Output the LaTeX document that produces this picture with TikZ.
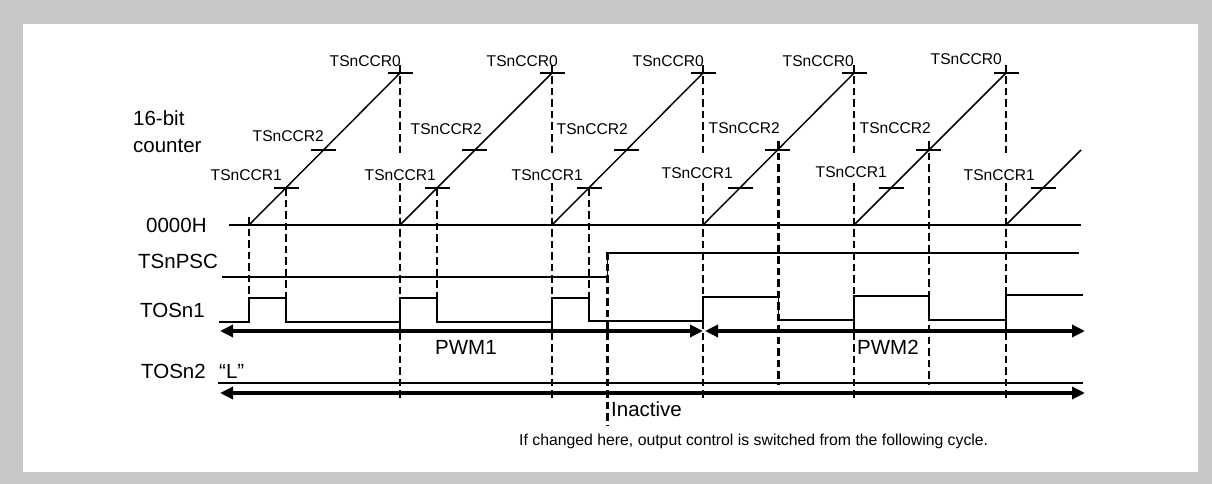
\documentclass[tikz,border=0pt]{standalone}
\usepackage{fontspec}
\setmainfont{Liberation Sans}
\usetikzlibrary{arrows.meta}
\definecolor{framegray}{RGB}{200,200,200}
\begin{document}
\begin{tikzpicture}[x=1pt,y=-1pt,
  thinln/.style={line width=1.45pt, line join=miter},
  dashln/.style={line width=2.9pt, dash pattern=on 7.5pt off 4pt},
  bigarrow/.style={line width=3.5pt, {Triangle[length=13pt,width=12pt]}-{Triangle[length=13pt,width=12pt]}},
  biglbl/.style={font=\fontsize{20.5}{24}\selectfont, inner sep=0pt},
  smlbl/.style={font=\fontsize{15.6}{18}\selectfont, inner sep=0pt},
  notelbl/.style={font=\fontsize{15.8}{18}\selectfont, inner sep=0pt}]
\useasboundingbox (0,0) rectangle (1212,484);
\fill[framegray] (0,0) rectangle (1212,484);
\fill[white] (23,24) rectangle (1198,472);

% counter zero line
\draw[thinln] (229,225) -- (1081,225);
% ramps with compare ticks
\foreach \s/\p in {249/400,400/552,552/703,703/854,854/1006}{
  \draw[thinln] (\s,225) -- (\p,73);
  \draw[thinln] (\p-12.5,73) -- (\p+12.5,73);
  \draw[thinln] (\s+62,150) -- (\s+87,150);
  \draw[thinln] (\s+24.5,188) -- (\s+49.5,188);
}
\draw[thinln] (1006,225) -- (1081,150);
\draw[thinln] (1030.5,188) -- (1055.5,188);

% TSnPSC
\draw[thinln] (222,277) -- (607.5,277) -- (607.5,253) -- (1079,253);
% TOSn1
\draw[thinln] (219,322) -- (249,322) -- (249,298) -- (286,298) -- (286,322)
  -- (400,322) -- (400,298) -- (437,298) -- (437,322) -- (552,322) -- (552,298)
  -- (589,298) -- (589,321) -- (703,321) -- (703,297) -- (778.5,297) -- (778.5,320)
  -- (854,320) -- (854,296) -- (929,296) -- (929,320) -- (1006,320) -- (1006,295) -- (1083,295);
% TOSn2
\draw[thinln] (218,383) -- (1083,383);

% dashed markers
\foreach \x in {400,552,703,854,1006}{
  \draw[dashln] (\x,65) -- (\x,155);
  \draw[dashln] (\x,183) -- (\x,401);
}
\draw[dashln] (249,217) -- (249,322);
\foreach \x in {286,437,589} \draw[dashln] (\x,188) -- (\x,322);
\foreach \x in {778.5,929} \draw[dashln] (\x,141) -- (\x,385);
\draw[dashln] (607.5,252) -- (607.5,425);

% arrows
\draw[bigarrow] (220,331) -- (703,331);
\draw[bigarrow] (705,331) -- (1085,331);
\draw[bigarrow] (220,393) -- (1085,393);

% left labels
\node[biglbl, anchor=base west] (l16) at (133,126) {16-bit};
\node[biglbl, anchor=base west] (lcnt) at (133,153) {counter};
\node[biglbl, anchor=base west] (lzero) at (146,232) {0000H};
\node[biglbl, anchor=base west] (lpsc) at (138,268) {TSnPSC};
\node[biglbl, anchor=base west] (ltos1) at (140,317) {TOSn1};
\node[biglbl, anchor=base west] (ltos2) at (141,378) {TOSn2};
\node[biglbl, anchor=base west] (lL) at (219,378) {“L”};

% compare labels
\node[smlbl, anchor=base east] (a0) at (401,67) {TSnCCR0};
\node[smlbl, anchor=base east] (b0) at (558,67) {TSnCCR0};
\node[smlbl, anchor=base east] (c0) at (704,67) {TSnCCR0};
\node[smlbl, anchor=base east] (d0) at (854,67) {TSnCCR0};
\node[smlbl, anchor=base east] (e0) at (1002,65) {TSnCCR0};
\node[smlbl, anchor=base east] (a2) at (324,142) {TSnCCR2};
\node[smlbl, anchor=base east] (b2) at (482,135) {TSnCCR2};
\node[smlbl, anchor=base east] (c2) at (628,135) {TSnCCR2};
\node[smlbl, anchor=base east] (d2) at (780,134) {TSnCCR2};
\node[smlbl, anchor=base east] (e2) at (931,133) {TSnCCR2};
\node[smlbl, anchor=base east] (a1) at (282,180) {TSnCCR1};
\node[smlbl, anchor=base east] (b1) at (436,180) {TSnCCR1};
\node[smlbl, anchor=base east] (c1) at (583,180) {TSnCCR1};
\node[smlbl, anchor=base east] (d1) at (733,178) {TSnCCR1};
\node[smlbl, anchor=base east] (e1) at (887,177) {TSnCCR1};
\node[smlbl, anchor=base east] (f1) at (1035,180) {TSnCCR1};

% mode labels
\node[biglbl, anchor=base west] (pwm1) at (435,354) {PWM1};
\node[biglbl, anchor=base west] (pwm2) at (857,354) {PWM2};
\node[biglbl, anchor=base west] (inact) at (611,416) {Inactive};
\node[notelbl, anchor=base west] (note) at (519,445) {If changed here, output control is switched from the following cycle.};
\end{tikzpicture}
\end{document}
